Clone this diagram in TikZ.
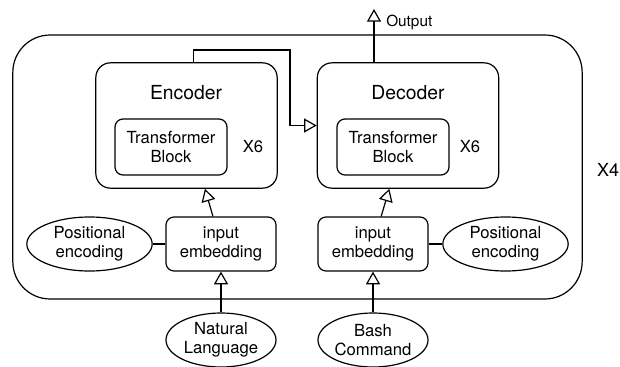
\documentclass[tikz,border=0pt]{standalone}
\usepackage{fontspec}
\setmainfont{TeX Gyre Heros}
\usetikzlibrary{positioning,shapes.geometric,arrows.meta}

\tikzset{
	blk/.style={draw, line width=0.9pt, inner sep=0pt, align=center, font=\fontsize{12.5}{14.5}\selectfont},
	rbox/.style={blk, rectangle, rounded corners=6pt, minimum width=82.5pt, minimum height=40.5pt},
	coder/.style={blk, rectangle, rounded corners=11pt, minimum width=136pt, minimum height=94pt},
	oval/.style={blk, ellipse, minimum width=82.5pt, minimum height=40.5pt},
	flow/.style={line width=0.9pt, -{Triangle[open, length=9.5pt, width=10.5pt]}},
	plain/.style={line width=0.9pt},
}

\begin{document}
\begin{tikzpicture}[x=0.75pt, y=-0.75pt]
	\useasboundingbox (0,0) rectangle (620,367);

	% Instances/Symbols:
	\node[blk, rounded corners=28pt, minimum width=427pt, minimum height=198pt] (loop) at (297.5, 167) {};
	\node[coder] (enc) at (186.5, 125.5) {};
	\node[coder] (dec) at (408, 125.5) {};
	\node[rbox, minimum width=84pt, minimum height=42pt] (enctb) at (171, 147) {Transformer\\Block};
	\node[rbox, minimum width=84pt, minimum height=42pt] (dectb) at (393, 147) {Transformer\\Block};
	\node[rbox] (encemb) at (221, 244) {input\\embedding};
	\node[rbox] (decemb) at (373, 244) {input\\embedding};
	\node[oval, minimum width=94pt] (encpos) at (89.5, 244) {Positional\\encoding};
	\node[oval, minimum width=94pt] (decpos) at (505.5, 244) {Positional\\encoding};
	\node[oval] (natlang) at (221, 340) {Natural\\Language};
	\node[oval] (bash) at (373, 340) {Bash\\Command};
	\coordinate (out) at (374, 9);

	% Lines:
	\draw[plain] (encpos) -- (encemb);
	\draw[plain] (decpos) -- (decemb);
	\draw[flow] (natlang) -- (encemb);
	\draw[flow] (bash) -- (decemb);
	\draw[flow] (encemb) -- (enc);
	\draw[flow] (decemb) -- (dec);
	\draw[flow] ([xshift=5pt]enc.north) |- (290, 50) |- (dec.west);
	\draw[flow] (dec.north -| out) -- (out);

	% Labels
	\node[font=\fontsize{14.5}{16}\selectfont] (enctitle) at (186, 93) {Encoder};
	\node[font=\fontsize{14.5}{16}\selectfont] (dectitle) at (408, 93) {Decoder};
	\node[font=\fontsize{12.5}{14}\selectfont] (encx) at (253, 147) {X6};
	\node[font=\fontsize{12.5}{14}\selectfont] (decx) at (470, 147) {X6};
	\node[font=\fontsize{13.5}{15}\selectfont] (loopx) at (608, 170) {X4};
	\node[font=\fontsize{11.5}{13}\selectfont, anchor=west, inner sep=0pt] (outlbl) at (386, 22) {Output};

\end{tikzpicture}
\end{document}
